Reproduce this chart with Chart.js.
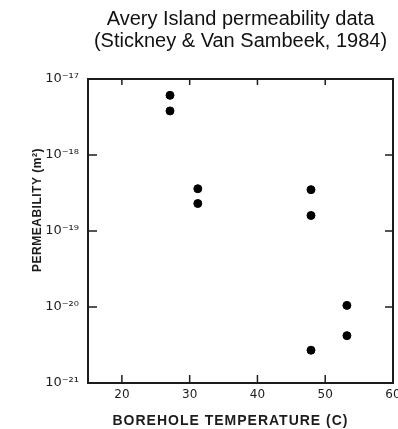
<!DOCTYPE html>
<html>
<head>
<meta charset="utf-8">
<script src="https://cdn.jsdelivr.net/npm/chart.js@4.4.1/dist/chart.umd.min.js"></script>
<style>
  html, body { margin: 0; padding: 0; background: #fff; }
  #wrap { width: 398px; height: 429px; position: relative; }
</style>
</head>
<body>
<div id="wrap"><canvas id="permChart"></canvas></div>
<script>
// borehole temperature (C) and measured permeability (m^2)
const temperatures = [27.1, 27.1, 31.2, 31.2, 47.9, 47.9, 47.9, 53.2, 53.2];
const permeabilities = [6.1e-18, 3.8e-18, 3.6e-19, 2.3e-19, 3.5e-19, 1.6e-19, 2.7e-21, 1.05e-20, 4.2e-21];

const xTicks = [20, 30, 40, 50, 60];
const yTicks = [1e-17, 1e-18, 1e-19, 1e-20, 1e-21];
const yTickLabels = ['10⁻¹⁷', '10⁻¹⁸', '10⁻¹⁹', '10⁻²⁰', '10⁻²¹'];

const ink = '#1c1c1c';

// frame with inward tick marks, plus the two axis titles
const framePlugin = {
  id: 'frame',
  afterDraw(chart) {
    const { ctx, chartArea: a, scales } = chart;
    const xs = scales.x, ys = scales.y;
    ctx.save();
    ctx.strokeStyle = ink;
    ctx.lineWidth = 2;
    ctx.strokeRect(a.left, a.top, a.right - a.left, a.bottom - a.top);

    ctx.lineWidth = 1.5;
    ctx.beginPath();
    xTicks.slice(0, -1).forEach(v => {
      const px = xs.getPixelForValue(v);
      ctx.moveTo(px, a.bottom); ctx.lineTo(px, a.bottom - 8);
      ctx.moveTo(px, a.top); ctx.lineTo(px, a.top + 6);
    });
    yTicks.slice(1, -1).forEach(v => {
      const py = ys.getPixelForValue(v);
      ctx.moveTo(a.left, py); ctx.lineTo(a.left + 9, py);
      ctx.moveTo(a.right, py); ctx.lineTo(a.right - 8, py);
    });
    ctx.stroke();

    ctx.fillStyle = ink;
    ctx.textAlign = 'center';
    ctx.textBaseline = 'middle';
    ctx.font = 'bold 14px "Liberation Sans", Arial, sans-serif';
    ctx.letterSpacing = '1px';
    ctx.fillText('BOREHOLE TEMPERATURE (C)', (a.left + a.right) / 2 - 10, 421);

    ctx.font = 'bold 12px "Liberation Sans", Arial, sans-serif';
    ctx.letterSpacing = '0.5px';
    ctx.translate(38, (a.top + a.bottom) / 2 - 21);
    ctx.rotate(-Math.PI / 2);
    ctx.fillText('PERMEABILITY (m²)', 0, 0);
    ctx.restore();
  }
};

const ctx = document.getElementById('permChart').getContext('2d');
new Chart(ctx, {
  type: 'scatter',
  data: {
    datasets: [{
      data: temperatures.map((t, i) => ({ x: t, y: permeabilities[i] })),
      backgroundColor: '#000',
      borderColor: '#000',
      pointRadius: 4,
      pointHoverRadius: 4
    }]
  },
  options: {
    responsive: true,
    maintainAspectRatio: false,
    animation: false,
    layout: { padding: { top: 0, right: 3, bottom: 0, left: 0 } },
    scales: {
      x: {
        type: 'linear',
        min: 15,
        max: 60,
        afterBuildTicks: scale => { scale.ticks = xTicks.map(v => ({ value: v })); },
        afterFit: scale => { scale.height = 46; scale.paddingLeft = 0; scale.paddingRight = 0; },
        grid: { display: false, drawTicks: false },
        border: { display: false },
        ticks: {
          padding: 5,
          color: ink,
          maxRotation: 0,
          font: { family: '"DejaVu Sans", sans-serif', size: 12 }
        }
      },
      y: {
        type: 'logarithmic',
        min: 1e-21,
        max: 1e-17,
        afterBuildTicks: scale => { scale.ticks = yTicks.map(v => ({ value: v })); },
        afterFit: scale => { scale.width = 88; scale.paddingTop = 0; scale.paddingBottom = 0; },
        grid: { display: false, drawTicks: false },
        border: { display: false },
        ticks: {
          padding: 9,
          color: ink,
          font: { family: '"DejaVu Sans", sans-serif', size: 13 },
          callback: value => {
            const i = yTicks.findIndex(t => Math.abs(Math.log10(t) - Math.log10(value)) < 1e-6);
            return i >= 0 ? yTickLabels[i] : '';
          }
        }
      }
    },
    plugins: {
      legend: { display: false },
      tooltip: { enabled: false },
      title: {
        display: true,
        fullSize: false,
        text: ['Avery Island permeability data', '(Stickney & Van Sambeek, 1984)'],
        color: '#111',
        font: { family: '"Liberation Sans", Arial, sans-serif', size: 20, weight: 'normal', lineHeight: 1.1 },
        padding: { top: 8, bottom: 27 }
      }
    }
  },
  plugins: [framePlugin]
});
</script>
</body>
</html>
